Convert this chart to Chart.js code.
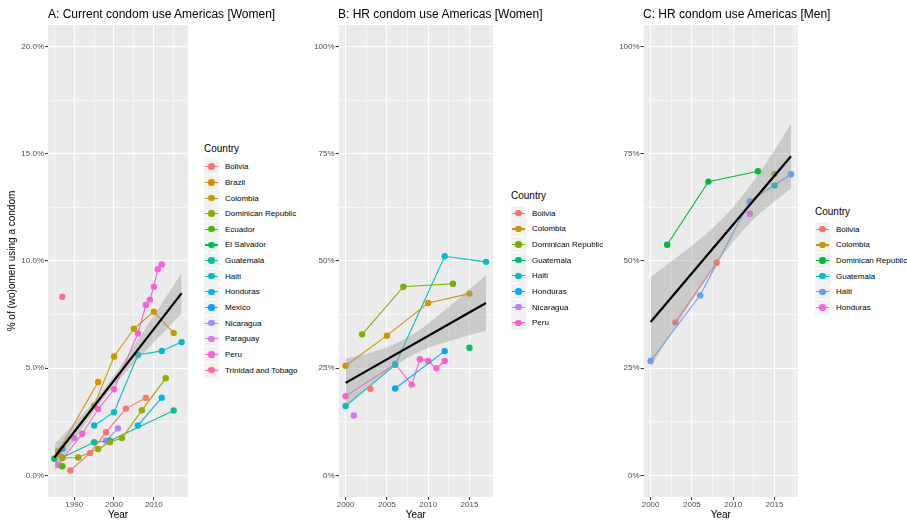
<!DOCTYPE html>
<html lang="en">
<head>
  <meta charset="UTF-8" />
  <title>Condom use Americas</title>
  <script src="https://cdn.jsdelivr.net/npm/chart.js"></script>
  <style>
    body {
      margin: 0;
      padding: 0;
      background: #fff;
      font-family: 'Liberation Sans', Arial, sans-serif;
    }
    #wrap {
      position: relative;
      width: 907px;
      height: 522px;
      overflow: hidden;
    }
    canvas {
      position: absolute;
      top: 0;
    }
    .ptitle {
      position: absolute;
      top: 7px;
      font-size: 12px;
      line-height: 14px;
      color: #000;
      white-space: nowrap;
    }
    .lgTitle {
      position: absolute;
      font-size: 10px;
      line-height: 12px;
      color: #000;
    }
    .key {
      position: absolute;
      width: 15px;
      height: 15px;
      background: #f2f2f2;
    }
    .key .ln {
      position: absolute;
      left: 1px;
      right: 1px;
      top: 7px;
      height: 1.1px;
    }
    .key .dot {
      position: absolute;
      left: 4.3px;
      top: 4.3px;
      width: 6.4px;
      height: 6.4px;
      border-radius: 50%;
    }
    .lab {
      position: absolute;
      font-size: 8px;
      line-height: 15px;
      color: #000;
      white-space: nowrap;
    }
  </style>
</head>
<body>
<div id="wrap">
  <canvas id="chartA" width="192" height="522" style="left:0px"></canvas>
  <canvas id="chartB" width="197" height="522" style="left:300px"></canvas>
  <canvas id="chartC" width="202" height="522" style="left:600px"></canvas>
  <div class="ptitle" style="left:48px">A: Current condom use Americas [Women]</div>
  <div class="ptitle" style="left:338px">B: HR condom use Americas [Women]</div>
  <div class="ptitle" style="left:643px">C: HR condom use Americas [Men]</div>
</div>

<script>
  // ---- Panel A: current condom use, women (%) ----
  const countriesA = ['Bolivia', 'Brazil', 'Colombia', 'Dominican Republic', 'Ecuador', 'El Salvador',
    'Guatemala', 'Haiti', 'Honduras', 'Mexico', 'Nicaragua', 'Paraguay', 'Peru', 'Trinidad and Tobago'];
  const colorsA = ['#F8766D', '#E38900', '#C49A00', '#99A800', '#53B400', '#00BC56', '#00C094',
    '#00BFC4', '#00B6EB', '#06A4FF', '#A58AFF', '#DF70F8', '#FB61D7', '#FF66A8'];
  const yearsA = [
    [1989, 1994, 1998, 2003, 2008],
    [1986, 1996],
    [1986, 1995, 2000, 2005, 2010, 2015],
    [1987, 1991, 1996, 1999, 2002, 2007, 2013],
    [1987],
    [1985],
    [1987, 1995, 1999, 2015],
    [1995, 2000, 2006, 2012, 2017],
    [2006, 2012],
    [1987],
    [1998, 2001],
    [1990],
    [1986, 1992, 1996, 2000, 2006, 2008, 2009, 2010, 2011, 2012],
    [1987]
  ];
  const pctA = [
    [0.24, 1.05, 2.02, 3.12, 3.62],
    [1.13, 4.36],
    [1.0, 3.26, 5.55, 6.84, 7.64, 6.64],
    [0.82, 0.84, 1.24, 1.56, 1.75, 3.04, 4.54],
    [0.43],
    [0.78],
    [0.84, 1.55, 1.62, 3.03],
    [2.33, 2.95, 5.62, 5.81, 6.22],
    [2.33, 3.63],
    [1.25],
    [1.62, 2.2],
    [1.75],
    [0.5, 1.95, 3.1, 4.02, 6.62, 7.95, 8.2, 8.8, 9.62, 9.84],
    [8.33]
  ];
  const fitYearsA = [1985, 2017];
  const fitPctA = [0.84, 8.5];
  const bandYearsA = [1985, 1990, 1995, 2000, 2005, 2010, 2013, 2017];
  const bandHighA = [1.46, 2.44, 3.46, 4.67, 6.04, 7.46, 8.30, 9.45];
  const bandLowA = [0.22, 1.64, 3.0, 4.2, 5.22, 6.2, 6.78, 7.55];
  const xMajorA = [1990, 2000, 2010];
  const xMinorA = [1985, 1995, 2005, 2015];
  const yMajorA = [0, 5, 10, 15, 20];
  const yMinorA = [2.5, 7.5, 12.5, 17.5];
  const yLabelsA = ['0.0%', '5.0%', '10.0%', '15.0%', '20.0%'];

  // ---- Panel B: higher-risk condom use, women (%) ----
  const countriesB = ['Bolivia', 'Colombia', 'Dominican Republic', 'Guatemala', 'Haiti', 'Honduras', 'Nicaragua', 'Peru'];
  const colorsB = ['#F8766D', '#CD9600', '#7CAE00', '#00BE67', '#00BFC4', '#00A9FF', '#C77CFF', '#FF61CC'];
  const yearsB = [
    [2003],
    [2000, 2005, 2010, 2015],
    [2002, 2007, 2013],
    [2015],
    [2000, 2006, 2012, 2017],
    [2006, 2012],
    [2001],
    [2000, 2006, 2008, 2009, 2010, 2011, 2012]
  ];
  const pctB = [
    [20.2],
    [25.6, 32.6, 40.2, 42.4],
    [32.9, 44.0, 44.7],
    [29.8],
    [16.2, 25.8, 51.1, 49.8],
    [20.3, 29.0],
    [14.0],
    [18.5, 26.0, 21.2, 27.1, 26.7, 25.0, 26.7]
  ];
  const fitYearsB = [2000, 2017];
  const fitPctB = [21.6, 40.2];
  const bandYearsB = [2000, 2003, 2006, 2009, 2012, 2015, 2017];
  const bandHighB = [27.2, 28.6, 30.7, 34.0, 38.5, 43.4, 46.7];
  const bandLowB = [16.2, 21.2, 25.6, 28.9, 31.0, 32.7, 33.7];

  // ---- Panel C: higher-risk condom use, men (%) ----
  const countriesC = ['Bolivia', 'Colombia', 'Dominican Republic', 'Guatemala', 'Haiti', 'Honduras'];
  const colorsC = ['#F8766D', '#B79F00', '#00BA38', '#00BFC4', '#619CFF', '#F564E3'];
  const yearsC = [
    [2003, 2008],
    [2015],
    [2002, 2007, 2013],
    [2015],
    [2000, 2006, 2012, 2017],
    [2012]
  ];
  const pctC = [
    [35.7, 49.6],
    [70.3],
    [53.8, 68.5, 70.9],
    [67.6],
    [26.7, 42.0, 63.9, 70.2],
    [61.0]
  ];
  const fitYearsC = [2000, 2017];
  const fitPctC = [35.8, 74.4];
  const bandYearsC = [2000, 2003, 2006, 2009, 2012, 2015, 2017];
  const bandHighC = [46.3, 50.6, 55.1, 60.4, 67.4, 75.8, 81.9];
  const bandLowC = [25.3, 34.7, 43.7, 52.1, 58.8, 63.9, 66.9];

  // shared axes for B and C
  const xMajorBC = [2000, 2005, 2010, 2015];
  const xMinorBC = [2002.5, 2007.5, 2012.5, 2017.5];
  const yMajorBC = [0, 25, 50, 75, 100];
  const yMinorBC = [12.5, 37.5, 62.5, 87.5];
  const yLabelsBC = ['0%', '25%', '50%', '75%', '100%'];

  const FONT = "'Liberation Sans', Arial, sans-serif";

  const panelBg = {
    id: 'panelBg',
    beforeDraw(chart) {
      const { ctx, chartArea: a } = chart;
      ctx.save();
      ctx.fillStyle = '#EBEBEB';
      ctx.fillRect(a.left, a.top, a.right - a.left, a.bottom - a.top);
      ctx.restore();
    }
  };

  function pts(xs, ys) {
    return xs.map((x, i) => ({ x: x, y: ys[i] }));
  }

  function buildDatasets(p) {
    const sets = [
      { data: pts(p.fitX, p.fitY), borderColor: '#000', borderWidth: 2.2, pointRadius: 0, fill: false, order: -3 },
      { data: pts(p.bandX, p.bandHi), borderColor: 'rgba(0,0,0,0)', borderWidth: 0, pointRadius: 0,
        fill: '+1', backgroundColor: 'rgba(153,153,153,0.4)', cubicInterpolationMode: 'monotone', order: -2 },
      { data: pts(p.bandX, p.bandLo), borderColor: 'rgba(0,0,0,0)', borderWidth: 0, pointRadius: 0,
        fill: false, cubicInterpolationMode: 'monotone', order: -1 }
    ];
    p.countries.forEach((c, i) => {
      sets.push({
        label: c,
        data: pts(p.years[i], p.values[i]),
        borderColor: p.colors[i],
        backgroundColor: p.colors[i],
        pointBackgroundColor: p.colors[i],
        borderWidth: 1.1,
        pointRadius: 3.2,
        pointBorderWidth: 0,
        fill: false,
        order: 0
      });
    });
    return sets;
  }

  function gridOpts(major) {
    return {
      color: '#ffffff',
      lineWidth: ctx => (ctx.tick && major.includes(ctx.tick.value)) ? 1.1 : 0.55,
      tickColor: ctx => (ctx.tick && major.includes(ctx.tick.value)) ? '#333333' : 'rgba(0,0,0,0)',
      tickWidth: 1,
      tickLength: 3
    };
  }

  function makePanel(id, p) {
    const xTicks = p.xMajor.concat(p.xMinor).sort((a, b) => a - b);
    const yTicks = p.yMajor.concat(p.yMinor).sort((a, b) => a - b);
    new Chart(document.getElementById(id), {
      type: 'line',
      data: { datasets: buildDatasets(p) },
      options: {
        responsive: false,
        animation: false,
        events: [],
        layout: { padding: { top: 25, right: 2, left: 0, bottom: 0 } },
        plugins: { legend: { display: false }, tooltip: { enabled: false } },
        scales: {
          x: {
            type: 'linear',
            min: p.xMin,
            max: p.xMax,
            afterBuildTicks: s => { s.ticks = xTicks.map(v => ({ value: v })); },
            afterFit: s => { s.height = 25; },
            border: { display: false },
            grid: gridOpts(p.xMajor),
            ticks: {
              autoSkip: false,
              maxRotation: 0,
              padding: 0,
              color: '#4D4D4D',
              font: { size: 8, family: FONT },
              callback: v => p.xMajor.includes(v) ? String(v) : ''
            },
            title: {
              display: true,
              text: 'Year',
              color: '#000',
              font: { size: 10, family: FONT },
              padding: { top: 0, bottom: 1 }
            }
          },
          y: {
            min: p.yMin,
            max: p.yMax,
            afterBuildTicks: s => { s.ticks = yTicks.map(v => ({ value: v })); },
            afterFit: s => { s.width = p.yWidth; },
            border: { display: false },
            grid: gridOpts(p.yMajor),
            ticks: {
              autoSkip: false,
              padding: 1,
              color: '#4D4D4D',
              font: { size: 8, family: FONT },
              callback: v => {
                const k = p.yMajor.indexOf(v);
                return k >= 0 ? p.yLabels[k] : '';
              }
            },
            title: {
              display: !!p.yTitle,
              text: p.yTitle || '',
              color: '#000',
              font: { size: 10, family: FONT },
              padding: { top: 6, bottom: 0 }
            }
          }
        }
      },
      plugins: [panelBg]
    });
  }

  function drawLegend(keyLeft, titleMid, firstRow, countries, colors) {
    const wrap = document.getElementById('wrap');
    const t = document.createElement('div');
    t.className = 'lgTitle';
    t.textContent = 'Country';
    t.style.left = keyLeft + 'px';
    t.style.top = (titleMid - 6) + 'px';
    wrap.appendChild(t);
    countries.forEach((c, i) => {
      const top = firstRow + i * 15.65 - 7.5;
      const key = document.createElement('div');
      key.className = 'key';
      key.style.left = keyLeft + 'px';
      key.style.top = top + 'px';
      key.innerHTML = '<div class="ln" style="background:' + colors[i] + '"></div>' +
        '<div class="dot" style="background:' + colors[i] + '"></div>';
      wrap.appendChild(key);
      const lab = document.createElement('div');
      lab.className = 'lab';
      lab.textContent = c;
      lab.style.left = (keyLeft + 21) + 'px';
      lab.style.top = top + 'px';
      wrap.appendChild(lab);
    });
  }

  makePanel('chartA', {
    countries: countriesA, colors: colorsA, years: yearsA, values: pctA,
    fitX: fitYearsA, fitY: fitPctA, bandX: bandYearsA, bandHi: bandHighA, bandLo: bandLowA,
    xMin: 1983.4, xMax: 2018.6, yMin: -1, yMax: 21,
    xMajor: xMajorA, xMinor: xMinorA, yMajor: yMajorA, yMinor: yMinorA, yLabels: yLabelsA,
    yWidth: 48, yTitle: '% of (wo)omen using a condom'
  });
  makePanel('chartB', {
    countries: countriesB, colors: colorsB, years: yearsB, values: pctB,
    fitX: fitYearsB, fitY: fitPctB, bandX: bandYearsB, bandHi: bandHighB, bandLo: bandLowB,
    xMin: 1999.15, xMax: 2017.85, yMin: -5, yMax: 105,
    xMajor: xMajorBC, xMinor: xMinorBC, yMajor: yMajorBC, yMinor: yMinorBC, yLabels: yLabelsBC,
    yWidth: 38.6
  });
  makePanel('chartC', {
    countries: countriesC, colors: colorsC, years: yearsC, values: pctC,
    fitX: fitYearsC, fitY: fitPctC, bandX: bandYearsC, bandHi: bandHighC, bandLo: bandLowC,
    xMin: 1999.15, xMax: 2017.85, yMin: -5, yMax: 105,
    xMajor: xMajorBC, xMinor: xMinorBC, yMajor: yMajorBC, yMinor: yMinorBC, yLabels: yLabelsBC,
    yWidth: 43.6
  });

  drawLegend(204, 149, 166.7, countriesA, colorsA);
  drawLegend(511, 195.7, 213.3, countriesB, colorsB);
  drawLegend(815, 211.7, 229.3, countriesC, colorsC);
</script>
</body>
</html>
